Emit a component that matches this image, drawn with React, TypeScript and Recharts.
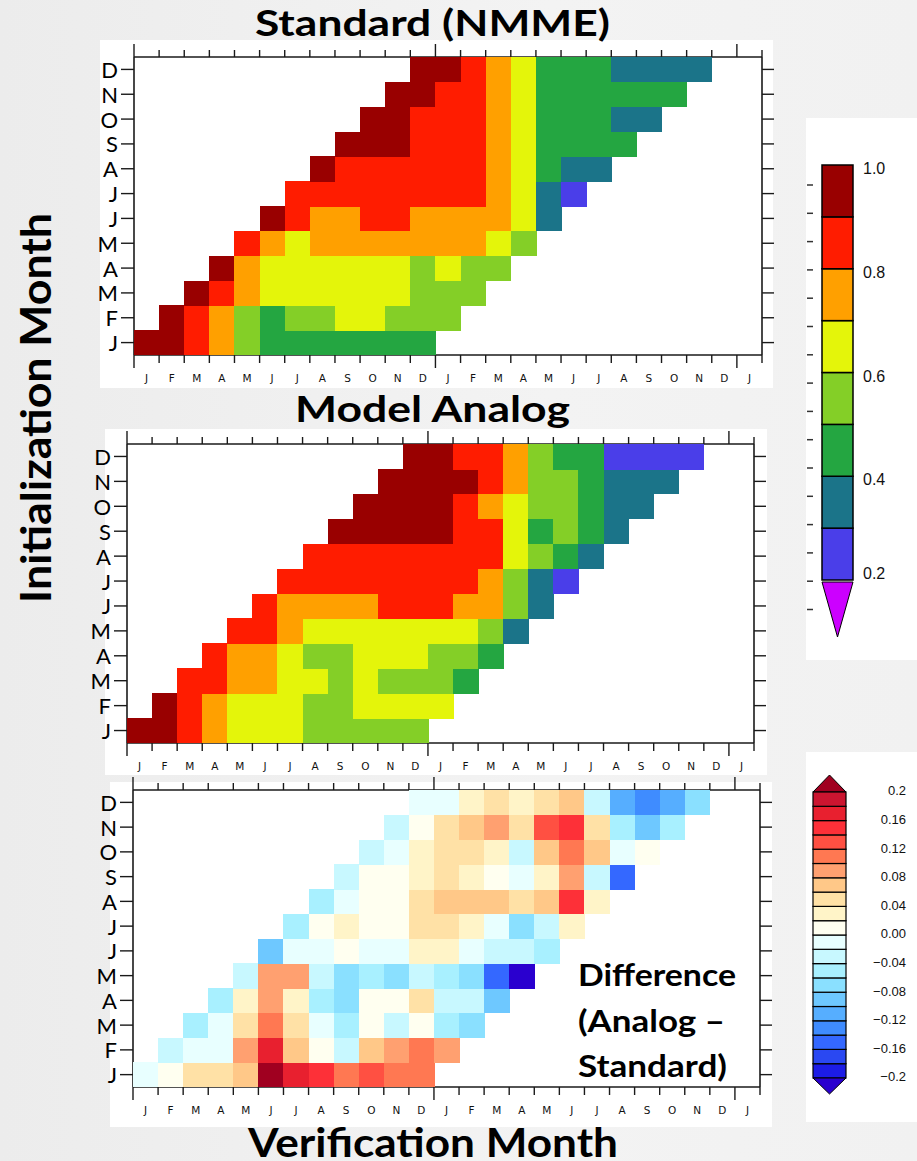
import React from 'react';
import { ScatterChart, Scatter, XAxis, YAxis } from 'recharts';

// verification months along x (two years + one), init months up the y axis
const VERIF_MONTHS = ['J', 'F', 'M', 'A', 'M', 'J', 'J', 'A', 'S', 'O', 'N', 'D', 'J', 'F', 'M', 'A', 'M', 'J', 'J', 'A', 'S', 'O', 'N', 'D', 'J'];
const INIT_MONTHS = ['J', 'F', 'M', 'A', 'M', 'J', 'J', 'A', 'S', 'O', 'N', 'D'];

// anomaly correlation, one row per init month (Jan..Dec), leads 0..11
const STANDARD = [
  [0.95, 0.95, 0.85, 0.75, 0.55, 0.45, 0.45, 0.45, 0.45, 0.45, 0.45, 0.45],
  [0.95, 0.85, 0.75, 0.55, 0.45, 0.55, 0.55, 0.65, 0.65, 0.55, 0.55, 0.55],
  [0.95, 0.85, 0.75, 0.65, 0.65, 0.65, 0.65, 0.65, 0.65, 0.55, 0.55, 0.55],
  [0.95, 0.75, 0.65, 0.65, 0.65, 0.65, 0.65, 0.65, 0.55, 0.65, 0.55, 0.55],
  [0.85, 0.75, 0.65, 0.75, 0.75, 0.75, 0.75, 0.75, 0.75, 0.75, 0.65, 0.55],
  [0.95, 0.85, 0.75, 0.75, 0.85, 0.85, 0.75, 0.75, 0.75, 0.75, 0.65, 0.35],
  [0.85, 0.85, 0.85, 0.85, 0.85, 0.85, 0.85, 0.85, 0.75, 0.65, 0.35, 0.25],
  [0.95, 0.85, 0.85, 0.85, 0.85, 0.85, 0.85, 0.75, 0.65, 0.45, 0.35, 0.35],
  [0.95, 0.95, 0.95, 0.85, 0.85, 0.85, 0.75, 0.65, 0.45, 0.45, 0.45, 0.45],
  [0.95, 0.95, 0.85, 0.85, 0.85, 0.75, 0.65, 0.45, 0.45, 0.45, 0.35, 0.35],
  [0.95, 0.95, 0.85, 0.85, 0.75, 0.65, 0.45, 0.45, 0.45, 0.45, 0.45, 0.45],
  [0.95, 0.95, 0.85, 0.75, 0.65, 0.45, 0.45, 0.45, 0.35, 0.35, 0.35, 0.35],
];

const ANALOG = [
  [0.95, 0.95, 0.85, 0.75, 0.65, 0.65, 0.65, 0.55, 0.55, 0.55, 0.55, 0.55],
  [0.95, 0.85, 0.75, 0.65, 0.65, 0.65, 0.55, 0.55, 0.65, 0.65, 0.65, 0.65],
  [0.85, 0.85, 0.75, 0.75, 0.65, 0.65, 0.55, 0.65, 0.55, 0.55, 0.55, 0.45],
  [0.85, 0.75, 0.75, 0.65, 0.55, 0.55, 0.65, 0.65, 0.65, 0.55, 0.55, 0.45],
  [0.85, 0.85, 0.75, 0.65, 0.65, 0.65, 0.65, 0.65, 0.65, 0.65, 0.55, 0.35],
  [0.85, 0.75, 0.75, 0.75, 0.75, 0.85, 0.85, 0.85, 0.75, 0.75, 0.55, 0.35],
  [0.85, 0.85, 0.85, 0.85, 0.85, 0.85, 0.85, 0.85, 0.75, 0.55, 0.35, 0.25],
  [0.85, 0.85, 0.85, 0.85, 0.85, 0.85, 0.85, 0.85, 0.65, 0.55, 0.45, 0.35],
  [0.95, 0.95, 0.95, 0.95, 0.95, 0.85, 0.85, 0.65, 0.45, 0.55, 0.45, 0.35],
  [0.95, 0.95, 0.95, 0.95, 0.85, 0.75, 0.65, 0.55, 0.55, 0.45, 0.35, 0.35],
  [0.95, 0.95, 0.95, 0.95, 0.85, 0.75, 0.55, 0.55, 0.45, 0.35, 0.35, 0.35],
  [0.95, 0.95, 0.85, 0.85, 0.75, 0.55, 0.45, 0.45, 0.25, 0.25, 0.25, 0.25],
];

const DIFFERENCE = [
  [-0.01, 0.01, 0.05, 0.05, 0.07, 0.21, 0.17, 0.15, 0.11, 0.13, 0.11, 0.11],
  [-0.03, -0.01, -0.01, 0.09, 0.17, 0.07, 0.01, -0.03, 0.07, 0.09, 0.11, 0.09],
  [-0.05, -0.01, 0.05, 0.11, 0.05, -0.01, -0.05, 0.01, -0.03, 0.01, -0.05, -0.07],
  [-0.05, 0.03, 0.09, 0.03, -0.05, -0.07, 0.01, 0.01, 0.05, -0.03, -0.03, -0.09],
  [-0.03, 0.09, 0.09, -0.03, -0.07, -0.05, -0.07, -0.03, -0.05, -0.07, -0.15, -0.21],
  [-0.09, -0.01, -0.01, 0.01, -0.01, -0.01, 0.03, 0.03, -0.01, -0.03, -0.03, -0.05],
  [-0.05, 0.01, 0.03, 0.01, 0.01, 0.05, 0.05, 0.03, -0.01, -0.07, -0.03, 0.03],
  [-0.05, -0.01, 0.01, 0.01, 0.05, 0.07, 0.07, 0.07, 0.05, 0.07, 0.15, 0.03],
  [-0.03, 0.01, 0.01, 0.03, 0.05, 0.03, 0.01, -0.01, 0.03, 0.09, -0.03, -0.15],
  [-0.03, -0.01, 0.03, 0.05, 0.05, 0.03, -0.03, 0.07, 0.11, 0.07, -0.01, 0.01],
  [-0.03, 0.01, 0.05, 0.07, 0.09, 0.05, 0.13, 0.15, 0.05, -0.05, -0.09, -0.05],
  [-0.01, -0.01, 0.03, 0.05, 0.03, 0.05, 0.07, -0.03, -0.11, -0.13, -0.11, -0.07],
];

const CORR_LEVELS = [0.2, 0.3, 0.4, 0.5, 0.6, 0.7, 0.8, 0.9, 1.0];
const CORR_COLORS = ['#4a3ee9', '#1b7489', '#24a641', '#84cf27', '#e4f50a', '#ffa000', '#ff1c00', '#990000'];
const CORR_UNDER = '#cc00ff';
const CORR_LABELS = ['1.0', '0.8', '0.6', '0.4', '0.2'];

const DIFF_LEVELS = [-0.2, -0.18, -0.16, -0.14, -0.12, -0.1, -0.08, -0.06, -0.04, -0.02, 0, 0.02, 0.04, 0.06, 0.08, 0.1, 0.12, 0.14, 0.16, 0.18, 0.2];
const DIFF_COLORS = [
  '#1c1ce6', '#2a48f2', '#3468ff', '#3f8cff', '#56aeff', '#6ec8ff', '#8ae0ff', '#a8f0ff', '#c8f8ff', '#e8ffff',
  '#fffff0', '#fff4c8', '#ffe1a6', '#ffc888', '#ffa070', '#ff7852', '#ff5042', '#fd3038', '#e8202f', '#cc1530',
];
const DIFF_UNDER = '#2a00cf';
const DIFF_OVER = '#a00020';
const DIFF_LABELS = ['0.2', '0.16', '0.12', '0.08', '0.04', '0.00', '\u22120.04', '\u22120.08', '\u22120.12', '\u22120.16', '\u22120.2'];

const pick = (levels: number[], colors: string[], under: string, over: string) => (v: number) => {
  if (v < levels[0]) return under;
  for (let i = 0; i < colors.length; i++) if (v < levels[i + 1]) return colors[i];
  return over;
};
const corrColor = pick(CORR_LEVELS, CORR_COLORS, CORR_UNDER, CORR_COLORS[CORR_COLORS.length - 1]);
const diffColor = pick(DIFF_LEVELS, DIFF_COLORS, DIFF_UNDER, DIFF_OVER);

type Box = { x: number; y: number; w: number; h: number };

const INK = '#1a1a1a';
const W = 800;

function Heatmap({ values, colorOf, box, top, height }: { values: number[][]; colorOf: (v: number) => string; box: Box; top: number; height: number }) {
  const cw = box.w / VERIF_MONTHS.length;
  const ch = box.h / INIT_MONTHS.length;
  const cells = values.flatMap((row, i) => row.map((v, k) => ({ x: i + k + 0.5, y: i + 0.5, v })));
  const bounds = Array.from({ length: VERIF_MONTHS.length + 1 }, (_, i) => i);
  const centers = INIT_MONTHS.map((_, i) => i + 0.5);
  const LW = 40, RW = 20, TH = 15, BH = 30;
  const margin = {
    left: box.x - LW,
    right: W - box.x - box.w - RW,
    top: box.y - top - TH,
    bottom: height - (box.y - top) - box.h - BH,
  };
  const frame = { stroke: INK, strokeWidth: 1.6 };
  const isMajor = (v: number) => v % 12 === 0;

  const bottomTick = (p: any) => {
    const v = p.payload.value;
    return (
      <g>
        <line x1={p.x} x2={p.x} y1={p.y} y2={p.y + (isMajor(v) ? 13 : 8)} stroke={INK} strokeWidth={1.4} />
        {v < VERIF_MONTHS.length && (
          <text x={p.x + cw / 2} y={p.y + 24} textAnchor="middle" dominantBaseline="middle" fontFamily="DejaVu Sans" fontSize={10.5} fill="#111">
            {VERIF_MONTHS[v]}
          </text>
        )}
      </g>
    );
  };
  const topTick = (p: any) => {
    const v = p.payload.value;
    return <line x1={p.x} x2={p.x} y1={p.y} y2={p.y - (isMajor(v) ? 13 : 7)} stroke={INK} strokeWidth={1.4} />;
  };
  const leftTick = (p: any) => (
    <g>
      <line x1={p.x} x2={p.x - 13} y1={p.y} y2={p.y} stroke={INK} strokeWidth={1.4} />
      <text x={p.x - 16} y={p.y} textAnchor="end" dominantBaseline="central" fontFamily="Lato" fontSize={22} fill="#000">
        {INIT_MONTHS[Math.floor(p.payload.value)]}
      </text>
    </g>
  );
  const rightTick = (p: any) => <line x1={p.x} x2={p.x + 12} y1={p.y} y2={p.y} stroke={INK} strokeWidth={1.4} />;

  const cell = (p: any) => {
    const v = p.payload ? p.payload.v : p.v;
    return (
      <rect x={p.cx - cw / 2} y={p.cy - ch / 2} width={cw + 0.6} height={ch + 0.6} fill={colorOf(v)} shapeRendering="crispEdges" />
    );
  };

  return (
    <div style={{ position: 'absolute', left: 0, top, width: W, height }}>
      <ScatterChart width={W} height={height} margin={margin}>
        <XAxis xAxisId="b" type="number" dataKey="x" domain={[0, 25]} allowDataOverflow ticks={bounds} interval={0} height={BH} tickSize={0} tickMargin={0} axisLine={frame} tickLine={false} tick={bottomTick} />
        <XAxis xAxisId="t" orientation="top" type="number" dataKey="x" domain={[0, 25]} allowDataOverflow ticks={bounds} interval={0} height={TH} tickSize={0} tickMargin={0} axisLine={frame} tickLine={false} tick={topTick} />
        <YAxis yAxisId="l" type="number" dataKey="y" domain={[0, 12]} allowDataOverflow ticks={centers} interval={0} width={LW} tickSize={0} tickMargin={0} axisLine={frame} tickLine={false} tick={leftTick} />
        <YAxis yAxisId="r" orientation="right" type="number" dataKey="y" domain={[0, 12]} allowDataOverflow ticks={centers} interval={0} width={RW} tickSize={0} tickMargin={0} axisLine={frame} tickLine={false} tick={rightTick} />
        <Scatter xAxisId="b" yAxisId="l" data={cells} shape={cell} isAnimationActive={false} />
        <Scatter xAxisId="t" yAxisId="r" data={cells} shape={() => <g />} isAnimationActive={false} />
      </ScatterChart>
    </div>
  );
}

function CorrColorbar() {
  const x = 822, w = 31, y0 = 165, y1 = 580;
  const yOf = (v: number) => y1 - ((v - CORR_LEVELS[0]) / (CORR_LEVELS[CORR_LEVELS.length - 1] - CORR_LEVELS[0])) * (y1 - y0);
  const dashes = Array.from({ length: 16 }, (_, i) => 185 + i * 28.3);
  return (
    <g>
      {dashes.map((d) => (
        <line key={d} x1={807} x2={813} y1={d} y2={d} stroke="#333" strokeWidth={1.5} />
      ))}
      {CORR_COLORS.map((c, i) => (
        <rect key={c} x={x} y={yOf(CORR_LEVELS[i + 1])} width={w} height={yOf(CORR_LEVELS[i]) - yOf(CORR_LEVELS[i + 1])} fill={c} stroke="#000" strokeWidth={1.5} />
      ))}
      <polygon points={`${x},${y1 + 2} ${x + w},${y1 + 2} ${x + w / 2},${y1 + 57}`} fill={CORR_UNDER} stroke="#000" strokeWidth={1} />
      {CORR_LABELS.map((t) => (
        <text key={t} x={863} y={yOf(parseFloat(t)) + (t === '0.2' ? -5 : 5)} dominantBaseline="middle" fontFamily="Liberation Sans Narrow, Liberation Sans" fontSize={16} fill="#111">
          {t}
        </text>
      ))}
    </g>
  );
}

function DiffColorbar() {
  const x = 813, w = 33, y0 = 792, y1 = 1078;
  const lo = DIFF_LEVELS[0], hi = DIFF_LEVELS[DIFF_LEVELS.length - 1];
  const yOf = (v: number) => y1 - ((v - lo) / (hi - lo)) * (y1 - y0);
  return (
    <g>
      <polygon points={`${x},${y0} ${x + w},${y0} ${x + w / 2},${y0 - 17}`} fill={DIFF_OVER} stroke="#000" strokeWidth={1} />
      {DIFF_COLORS.map((c, i) => (
        <rect key={c} x={x} y={yOf(DIFF_LEVELS[i + 1])} width={w} height={yOf(DIFF_LEVELS[i]) - yOf(DIFF_LEVELS[i + 1])} fill={c} stroke="#000" strokeWidth={1.2} />
      ))}
      <polygon points={`${x},${y1} ${x + w},${y1} ${x + w / 2},${y1 + 16}`} fill={DIFF_UNDER} stroke="#000" strokeWidth={1} />
      {DIFF_LABELS.map((t, i) => (
        <text key={t} x={906} y={y0 + i * ((y1 - y0) / (DIFF_LABELS.length - 1))} textAnchor="end" dominantBaseline="middle" fontFamily="Liberation Sans" fontSize={13} fill="#111">
          {t}
        </text>
      ))}
    </g>
  );
}

const panel = (left: number, top: number, width: number, height: number): React.CSSProperties => ({
  position: 'absolute', left, top, width, height, background: '#ffffff',
});

export default function App() {
  const title = { fontFamily: 'Lato', fontWeight: 700, fill: '#000', lengthAdjust: 'spacingAndGlyphs' } as const;
  return (
    <div style={{ position: 'absolute', left: 0, top: 0, width: 917, height: 1161, overflow: 'hidden', background: 'linear-gradient(90deg, #ececec 0%, #f3f3f3 60%, #f1f1f1 100%)' }}>
      <div style={panel(100, 40, 673, 348)} />
      <div style={panel(105, 429, 662, 346)} />
      <div style={panel(110, 782, 662, 345)} />
      <div style={panel(806, 118, 111, 542)} />
      <div style={panel(806, 752, 111, 370)} />

      <Heatmap values={STANDARD} colorOf={corrColor} box={{ x: 134, y: 57, w: 628, h: 298 }} top={0} height={400} />
      <Heatmap values={ANALOG} colorOf={corrColor} box={{ x: 127, y: 444, w: 627, h: 299 }} top={400} height={390} />
      <Heatmap values={DIFFERENCE} colorOf={diffColor} box={{ x: 133, y: 790, w: 627, h: 297 }} top={770} height={360} />

      <svg width={917} height={1161} style={{ position: 'absolute', left: 0, top: 0, pointerEvents: 'none' }}>
        <CorrColorbar />
        <DiffColorbar />
        <text x={255} y={36} fontSize={36} textLength={355} {...title}>Standard (NMME)</text>
        <text x={295} y={422} fontSize={37} textLength={275} {...title}>Model Analog</text>
        <text x={248} y={1157} fontSize={41} textLength={370} {...title}>Verification Month</text>
        <text transform="translate(51,603) rotate(-90)" fontSize={42} textLength={390} {...title}>Initialization Month</text>
        <text x={578} y={986} fontSize={31} textLength={158} {...title}>Difference</text>
        <text x={578} y={1032} fontSize={31} textLength={147} {...title}>(Analog {'\u2013'}</text>
        <text x={578} y={1077} fontSize={31} textLength={149} {...title}>Standard)</text>
      </svg>
    </div>
  );
}
